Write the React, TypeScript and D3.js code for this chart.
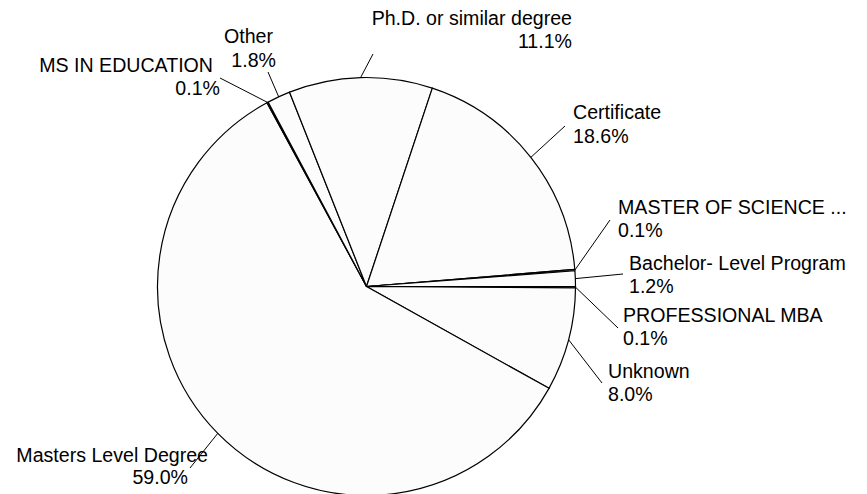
import React from "react";
import * as d3 from "d3";

const categories = [
  "PROFESSIONAL MBA",
  "Unknown",
  "Masters Level Degree",
  "MS IN EDUCATION",
  "Other",
  "Ph.D. or similar degree",
  "Certificate",
  "MASTER OF SCIENCE ...",
  "Bachelor- Level Program",
];
const values = [0.1, 8.0, 59.0, 0.1, 1.8, 11.1, 18.6, 0.1, 1.2];
const valueLabels = ["0.1%", "8.0%", "59.0%", "0.1%", "1.8%", "11.1%", "18.6%", "0.1%", "1.2%"];

// label layout: leader end point, line anchors
const labelLayout = [
  { lx: 618, ly: 328, anchor: "start", x1: 623, y1: 322, x2: 623, y2: 345 },
  { lx: 602, ly: 383, anchor: "start", x1: 608, y1: 378, x2: 608, y2: 401 },
  { lx: 190, ly: 468, anchor: "end", x1: 208, y1: 462, x2: 188, y2: 484 },
  { lx: 220, ly: 78, anchor: "end", x1: 213, y1: 72, x2: 220, y2: 95 },
  { lx: 268, ly: 72, anchor: "end", x1: 273, y1: 43, x2: 276, y2: 67 },
  { lx: 373, ly: 54, anchor: "end", x1: 572, y1: 25, x2: 572, y2: 48 },
  { lx: 565, ly: 126, anchor: "start", x1: 573, y1: 119, x2: 573, y2: 143 },
  { lx: 610, ly: 220, anchor: "start", x1: 618, y1: 214, x2: 618, y2: 237 },
  { lx: 623, ly: 274, anchor: "start", x1: 629, y1: 270, x2: 629, y2: 293 },
];

const W = 867;
const H = 494;
const cx = 366.5;
const cy = 286.5;
const R = 209;

export default function App() {
  const pie = d3
    .pie<number>()
    .sort(null)
    .value((d) => d)
    .startAngle(Math.PI / 2)
    .endAngle(Math.PI / 2 + 2 * Math.PI);
  const arcs = pie(values);
  const arcGen = d3.arc<d3.PieArcDatum<number>>().innerRadius(0).outerRadius(R);

  return (
    <svg
      width={W}
      height={H}
      style={{ position: "absolute", left: 0, top: 0, background: "#ffffff" }}
      fontFamily="'Liberation Sans', Arial, sans-serif"
      fontSize={19.6}
    >
      <g transform={`translate(${cx},${cy})`}>
        {arcs.map((a, i) => (
          <path key={i} d={arcGen(a) || ""} fill="#fcfcfc" stroke="#000" strokeWidth={1.2} strokeLinejoin="round" />
        ))}
      </g>
      {arcs.map((a, i) => {
        const mid = (a.startAngle + a.endAngle) / 2;
        const px = cx + R * Math.sin(mid);
        const py = cy - R * Math.cos(mid);
        const L = labelLayout[i];
        return (
          <g key={i}>
            <line x1={px} y1={py} x2={L.lx} y2={L.ly} stroke="#000" strokeWidth={1} />
            <text x={L.x1} y={L.y1} textAnchor={L.anchor} fill="#000">
              {categories[i]}
            </text>
            <text x={L.x2} y={L.y2} textAnchor={L.anchor} fill="#000">
              {valueLabels[i]}
            </text>
          </g>
        );
      })}
    </svg>
  );
}
